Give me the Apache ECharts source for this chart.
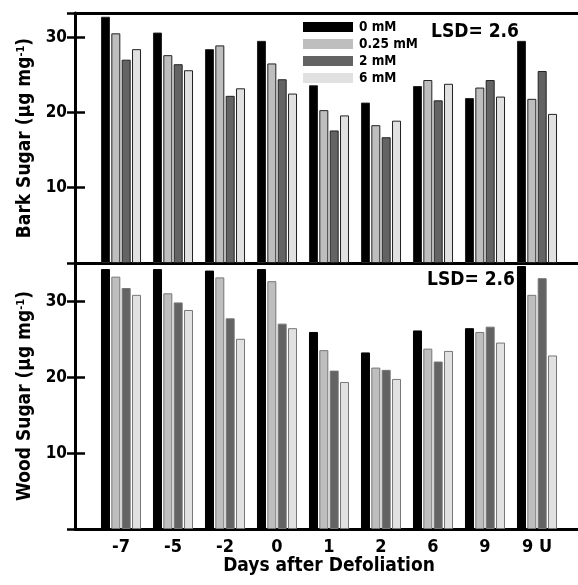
<!DOCTYPE html>
<html>
<head>
<meta charset="utf-8">
<script src="https://cdn.jsdelivr.net/npm/echarts@6/dist/echarts.min.js"></script>
<style>html,body{margin:0;padding:0;background:#fff;}#c{width:578px;height:585px;}</style>
</head>
<body>
<div id="c"></div>
<script>
const categories = ['-7', '-5', '-2', '0', '1', '2', '6', '9', '9 U'];
const seriesNames = ['0 mM', '0.25 mM', '2 mM', '6 mM'];
const bark0   = [32.7, 30.6, 28.4, 29.5, 23.6, 21.3, 23.5, 21.9, 29.5];
const bark025 = [30.5, 27.6, 28.9, 26.5, 20.3, 18.3, 24.3, 23.3, 21.8];
const bark2   = [27.0, 26.4, 22.2, 24.4, 17.6, 16.7, 21.6, 24.3, 25.5];
const bark6   = [28.4, 25.6, 23.2, 22.5, 19.6, 18.9, 23.8, 22.1, 19.8];
const wood0   = [34.3, 34.3, 34.1, 34.3, 26.0, 23.3, 26.2, 26.5, 34.7];
const wood025 = [33.3, 31.1, 33.2, 32.7, 23.6, 21.3, 23.8, 26.0, 30.9];
const wood2   = [31.8, 29.9, 27.8, 27.1, 20.9, 21.0, 22.1, 26.7, 33.1];
const wood6   = [30.9, 28.9, 25.1, 26.5, 19.4, 19.8, 23.5, 24.6, 22.9];
const barkMax = 33.2;
const woodMax = 35.1;
const tickInterval = 10;
const lsdText = 'LSD= 2.6';

const FONT = '"DejaVu Sans Condensed", "Liberation Sans Narrow", sans-serif';
const colors = ['#000000', '#bebebe', '#636363', '#e1e1e1'];
const barkData = [bark0, bark025, bark2, bark6];
const woodData = [wood0, wood025, wood2, wood6];

const chart = echarts.init(document.getElementById('c'), null, {renderer: 'canvas'});

const lineStyle = {color: '#000', width: 3};
function frameX(gridIndex, position, show) {
  return {
    type: 'value', gridIndex: gridIndex, position: position, min: 0, max: 1,
    axisLine: {show: show, onZero: false, lineStyle: lineStyle},
    axisTick: {show: false}, axisLabel: {show: false}, splitLine: {show: false}
  };
}
function leftY(gridIndex, max, nameTop) {
  return {
    type: 'value', gridIndex: gridIndex, position: 'left', min: 0, max: max, interval: tickInterval,
    axisLine: {show: true, onZero: false, lineStyle: lineStyle},
    axisTick: {show: true, inside: true, length: 10, lineStyle: {color: '#000', width: 2.5}},
    axisLabel: {show: true, margin: 8, color: '#000', fontFamily: FONT, fontWeight: 'bold', fontSize: 17,
      showMaxLabel: false, showMinLabel: false},
    splitLine: {show: false},
    name: '{a|' + nameTop + ' (µg mg}{s|-1}{a|)}',
    nameLocation: 'middle', nameGap: 38,
    nameTextStyle: {
      rich: {
        a: {fontFamily: FONT, fontWeight: 'bold', fontSize: 19, color: '#000'},
        s: {fontFamily: FONT, fontWeight: 'bold', fontSize: 11, color: '#000', verticalAlign: 'top', padding: [0, 0, 8, 0]}
      }
    }
  };
}
function rightY(gridIndex, max) {
  return {
    type: 'value', gridIndex: gridIndex, position: 'right', min: 0, max: max, interval: tickInterval,
    axisLine: {show: false},
    axisTick: {show: true, inside: true, length: 8, lineStyle: {color: '#000', width: 2.5}},
    axisLabel: {show: false}, splitLine: {show: false}
  };
}
function hiddenY(gridIndex, max) {
  return {
    type: 'value', gridIndex: gridIndex, min: 0, max: max, show: false, splitLine: {show: false}
  };
}

const series = [];
seriesNames.forEach(function (nm, i) {
  series.push({
    type: 'bar', name: nm, xAxisIndex: 2, yAxisIndex: 2, data: barkData[i],
    barWidth: 9, barGap: '15%',
    itemStyle: {color: colors[i], borderColor: '#222', borderWidth: 1}
  });
});
seriesNames.forEach(function (nm, i) {
  series.push({
    type: 'bar', name: nm, xAxisIndex: 4, yAxisIndex: 5, data: woodData[i],
    barWidth: 9, barGap: '15%',
    itemStyle: {color: colors[i], borderColor: i === 0 ? '#000' : '#777', borderWidth: 1}
  });
});

const option = {
  animation: false,
  backgroundColor: '#fff',
  title: [
    {text: lsdText, left: 426, top: 18, textStyle: {fontFamily: FONT, fontWeight: 'bold', fontSize: 19, color: '#000'}},
    {text: lsdText, left: 422, top: 266, textStyle: {fontFamily: FONT, fontWeight: 'bold', fontSize: 19, color: '#000'}}
  ],
  legend: {
    data: seriesNames, orient: 'vertical', left: 298, top: 15,
    itemWidth: 50, itemHeight: 10, itemGap: 3, icon: 'rect',
    itemStyle: {borderWidth: 0},
    textStyle: {fontFamily: FONT, fontWeight: 'bold', fontSize: 13.5, color: '#000', padding: [0, 0, 0, 1]},
    selectedMode: false
  },
  grid: [
    {left: 75, right: 0, top: 13, height: 250},
    {left: 95, right: 15, top: 13, height: 250},
    {left: 75, right: 0, top: 263, height: 266},
    {left: 95, right: 15, top: 263, height: 266}
  ],
  xAxis: [
    frameX(0, 'bottom', true),
    frameX(0, 'top', true),
    {type: 'category', gridIndex: 1, data: categories, show: false},
    frameX(2, 'bottom', true),
    {
      type: 'category', gridIndex: 3, data: categories, position: 'bottom',
      axisLine: {show: false}, axisTick: {show: false},
      axisLabel: {show: true, margin: 9, color: '#000', fontFamily: FONT, fontWeight: 'bold', fontSize: 18, interval: 0},
      name: 'Days after Defoliation', nameLocation: 'middle', nameGap: 24,
      nameTextStyle: {fontFamily: FONT, fontWeight: 'bold', fontSize: 19, color: '#000'}
    }
  ],
  yAxis: [
    leftY(0, barkMax, 'Bark Sugar'),
    rightY(0, barkMax),
    hiddenY(1, barkMax),
    leftY(2, woodMax, 'Wood Sugar'),
    rightY(2, woodMax),
    hiddenY(3, woodMax)
  ],
  series: series
};
chart.setOption(option);
</script>
</body>
</html>
